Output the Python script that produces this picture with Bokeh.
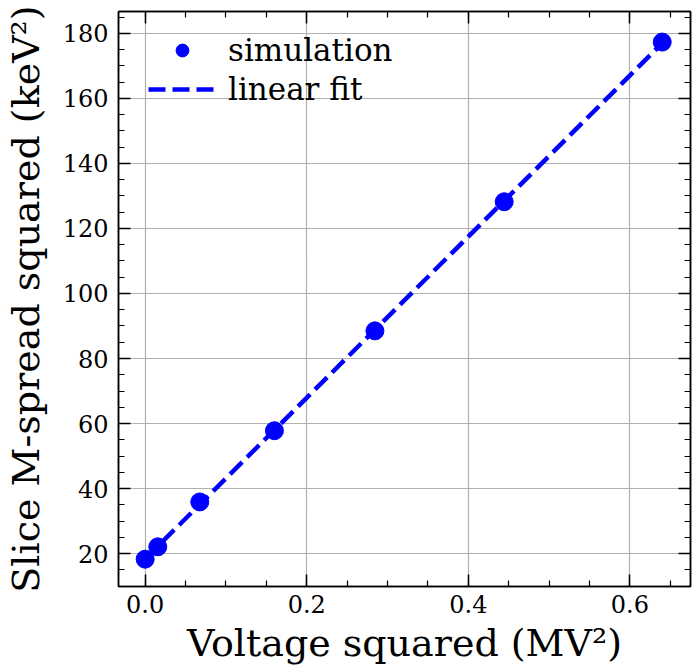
import numpy as np
from bokeh.plotting import figure
from bokeh.models import (LinearAxis, SingleIntervalTicker, NumeralTickFormatter,
                          CustomJSTickFormatter, Range1d, Legend, LegendItem,
                          ColumnDataSource)
from bokeh.embed import file_html
from bokeh.resources import INLINE

# data
voltage_sq = [0.0, 0.0156, 0.0676, 0.16, 0.2844, 0.4444, 0.64]
spread_sq = [18.3, 22.1, 35.9, 57.8, 88.5, 128.2, 177.3]

x_ticks_interval = 0.2
y_ticks_interval = 20

# linear fit of the simulation points
slope, intercept = np.polyfit(voltage_sq, spread_sq, 1)
fit_x = [min(voltage_sq), max(voltage_sq)]
fit_y = [slope * v + intercept for v in fit_x]

FONT = "DejaVu Serif"
BLUE = "#0000ff"

p = figure(width=694, height=667, output_backend="svg", toolbar_location=None,
           x_range=Range1d(-0.033, 0.675), y_range=Range1d(9.9, 186.7),
           x_axis_location=None, y_axis_location=None,
           min_border_left=118, min_border_top=11, min_border_right=4,
           min_border_bottom=79)
p.outline_line_color = "black"
p.outline_line_width = 1.5
p.background_fill_color = "white"
p.border_fill_color = "white"

xt = SingleIntervalTicker(interval=x_ticks_interval, num_minor_ticks=4)
yt = SingleIntervalTicker(interval=y_ticks_interval, num_minor_ticks=4)


def style_axis(ax, labels=True):
    ax.axis_line_color = "black"
    ax.axis_line_width = 1.5
    ax.major_tick_in = 12
    ax.major_tick_out = 0
    ax.minor_tick_in = 6
    ax.minor_tick_out = 0
    ax.major_tick_line_width = 1.5
    ax.minor_tick_line_width = 1.2
    ax.major_tick_line_color = "black"
    ax.minor_tick_line_color = "black"
    if labels:
        ax.major_label_text_font = FONT
        ax.major_label_text_font_size = "24px"
        ax.major_label_text_font_style = "normal"
        ax.major_label_text_color = "black"
        ax.axis_label_text_font = FONT
        ax.axis_label_text_font_size = "38px"
        ax.axis_label_text_font_style = "normal"
        ax.axis_label_text_color = "black"
    else:
        ax.formatter = CustomJSTickFormatter(code="return ''")
        ax.major_label_standoff = 0
        ax.axis_label = None


xb = LinearAxis(ticker=xt, formatter=NumeralTickFormatter(format="0.0"),
                axis_label="Voltage squared (MV²)")
style_axis(xb)
xb.major_label_standoff = 8
xb.axis_label_standoff = 5
p.add_layout(xb, "below")

yl = LinearAxis(ticker=yt, formatter=NumeralTickFormatter(format="0"),
                axis_label="Slice M-spread squared (keV²)")
style_axis(yl)
yl.major_label_standoff = 10
yl.axis_label_standoff = 12
p.add_layout(yl, "left")

xa = LinearAxis(ticker=xt)
style_axis(xa, labels=False)
p.add_layout(xa, "above")

yr = LinearAxis(ticker=yt)
style_axis(yr, labels=False)
p.add_layout(yr, "right")

p.xgrid.ticker = xt
p.ygrid.ticker = yt
p.xgrid.grid_line_color = "#b0b0b0"
p.ygrid.grid_line_color = "#b0b0b0"
p.xgrid.grid_line_width = 1.2
p.ygrid.grid_line_width = 1.2

src = ColumnDataSource(dict(x=voltage_sq, y=spread_sq))
fit_src = ColumnDataSource(dict(x=fit_x, y=fit_y))

line_r = p.line("x", "y", source=fit_src, line_color=BLUE, line_width=4.5,
                line_dash="17 7")
pts_r = p.scatter("x", "y", source=src, size=18, color=BLUE, marker="circle")

legend = Legend(items=[LegendItem(label="simulation", renderers=[pts_r]),
                       LegendItem(label="linear fit", renderers=[line_r])],
                location=(20, 469))
legend.label_text_font = FONT
legend.label_text_font_size = "31px"
legend.label_text_color = "black"
legend.border_line_alpha = 0
legend.background_fill_alpha = 0
legend.glyph_width = 68
legend.glyph_height = 32
legend.label_height = 32
legend.label_standoff = 12
legend.spacing = 3
legend.margin = 0
legend.padding = 10
p.add_layout(legend, "center")

open("out.html", "w").write(file_html(p, INLINE))
